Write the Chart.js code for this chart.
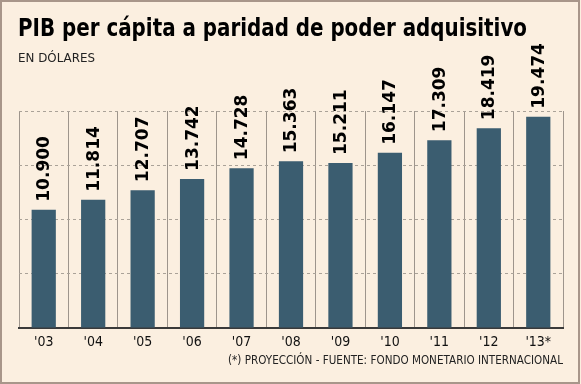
<!DOCTYPE html>
<html>
<head>
<meta charset="utf-8">
<script src="https://cdn.jsdelivr.net/npm/chart.js@4/dist/chart.umd.min.js"></script>
<style>
  html, body { margin: 0; padding: 0; background: #fbefe0; }
  #wrap { width: 581px; height: 384px; position: relative; }
</style>
</head>
<body>
<div id="wrap"><canvas id="pibChart"></canvas></div>
<script>
const YEARS = ["'03", "'04", "'05", "'06", "'07", "'08", "'09", "'10", "'11", "'12", "'13*"];
const PIB = [10900, 11814, 12707, 13742, 14728, 15363, 15211, 16147, 17309, 18419, 19474];
const Y_TICKS = [0, 5000, 10000, 15000, 20000];

const TITLE = 'PIB per cápita a paridad de poder adquisitivo';
const SUBTITLE = 'EN DÓLARES';
const SOURCE = '(*) PROYECCIÓN - FUENTE: FONDO MONETARIO INTERNACIONAL';

const BG = '#fbefe0';
const BAR = '#3b5d70';

function fmt(v) {
  return String(v).replace(/\B(?=(\d{3})+(?!\d))/g, '.');
}

// draw text squeezed to a given width
function fitText(ctx, text, x, y, width, align) {
  let w = ctx.measureText(text).width;
  let s = width / w;
  ctx.save();
  ctx.translate(x, y);
  ctx.scale(s, 1);
  ctx.textAlign = align;
  ctx.fillText(text, 0, 0);
  ctx.restore();
}

const frame = {
  id: 'frame',
  beforeDraw(chart) {
    const ctx = chart.ctx;
    ctx.save();
    ctx.fillStyle = BG;
    ctx.fillRect(0, 0, chart.width, chart.height);
    ctx.strokeStyle = '#a8968a';
    ctx.lineWidth = 2;
    ctx.strokeRect(1, 1, chart.width - 3, chart.height - 2);
    ctx.fillStyle = '#000';
    ctx.textBaseline = 'alphabetic';
    ctx.font = 'bold 24px "DejaVu Sans", sans-serif';
    fitText(ctx, TITLE, 18, 36, 509, 'left');
    ctx.fillStyle = '#222';
    ctx.font = '12.5px "DejaVu Sans", sans-serif';
    fitText(ctx, SUBTITLE, 18, 62, 77, 'left');
    ctx.font = '12px "DejaVu Sans", sans-serif';
    fitText(ctx, SOURCE, 563, 364, 335, 'right');
    ctx.restore();
  },
  afterDatasetsDraw(chart) {
    const ctx = chart.ctx;
    const meta = chart.getDatasetMeta(0);
    ctx.save();
    ctx.fillStyle = '#000';
    ctx.font = 'bold 17px "DejaVu Sans", sans-serif';
    ctx.textAlign = 'left';
    ctx.textBaseline = 'middle';
    meta.data.forEach((bar, i) => {
      ctx.save();
      ctx.translate(bar.x, bar.y - 8);
      ctx.rotate(-Math.PI / 2);
      ctx.fillText(fmt(PIB[i]), 0, 1);
      ctx.restore();
    });
    ctx.restore();
  }
};

new Chart(document.getElementById('pibChart'), {
  type: 'bar',
  data: {
    labels: YEARS,
    datasets: [{
      data: PIB,
      backgroundColor: BAR,
      borderWidth: 0,
      barPercentage: 0.49,
      categoryPercentage: 1.0
    }]
  },
  options: {
    responsive: true,
    maintainAspectRatio: false,
    animation: false,
    layout: { padding: { left: 19, right: 18, top: 111, bottom: 0 } },
    plugins: {
      legend: { display: false },
      title: { display: false },
      tooltip: { enabled: false }
    },
    scales: {
      x: {
        afterFit(scale) { scale.height = 56; },
        grid: {
          offset: true,
          color: '#9e958c',
          lineWidth: 1,
          drawTicks: false
        },
        border: { display: true, color: '#3a3a3a', width: 2 },
        ticks: {
          color: '#111',
          padding: 6,
          font: { family: '"DejaVu Sans Condensed", "DejaVu Sans", sans-serif', size: 14 }
        }
      },
      y: {
        min: 0,
        max: 20000,
        afterFit(scale) { scale.width = 0; },
        afterBuildTicks(scale) { scale.ticks = Y_TICKS.map(v => ({ value: v })); },
        ticks: { display: false },
        border: { display: false, dash: [3, 3] },
        grid: {
          drawTicks: false,
          color: ctx => ctx.tick && ctx.tick.value === 0 ? 'rgba(0,0,0,0)' : '#aaa298',
          lineWidth: 1
        }
      }
    }
  },
  plugins: [frame]
});
</script>
</body>
</html>
